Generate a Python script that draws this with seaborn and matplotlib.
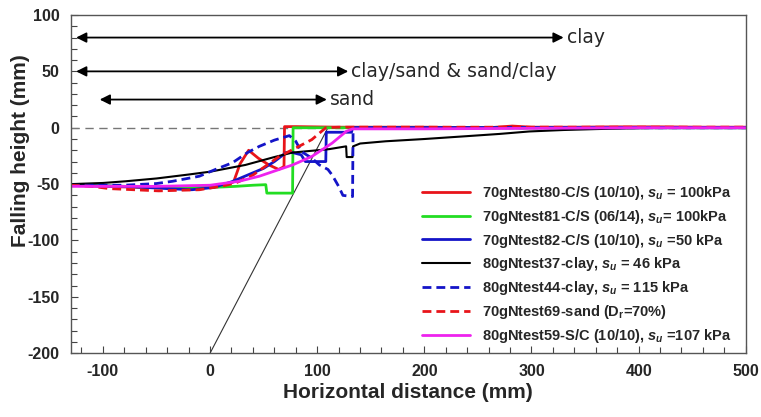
import matplotlib
matplotlib.use("Agg")
import matplotlib.pyplot as plt
import seaborn as sns
from matplotlib.ticker import MultipleLocator

# Data
x_t80 = [-130, -100, -60, -20, 0, 15, 22, 28, 36, 45, 55, 64, 68, 69, 69.5, 80, 120, 200, 260, 282, 300, 340, 380, 420, 460, 500]
y_t80 = [-51, -52, -53, -53, -52.5, -51, -48, -32, -20, -27, -33, -37, -35, -35, 1, 1, 0.5, 0.5, 0, 1.5, 0.5, 0.5, 0.8, 0.8, 0.5, 0.5]

x_t81 = [-130, -80, -40, 0, 24, 40, 52, 53, 77, 77.5, 120, 200, 300, 400, 500]
y_t81 = [-51, -52, -53, -53, -52, -51, -50.5, -58, -58, 0, 0, 0, 0, 0, 0]

x_t82 = [-130, -80, -40, -17, 3, 20, 35, 50, 60, 71, 77, 85, 89, 108, 108.5, 132, 133, 200, 300, 400, 500]
y_t82 = [-51, -52, -54, -55, -53, -48, -42, -36, -30, -22, -22, -24, -30, -30, -4, -4, 0, 0, 0, 0, 0]

x_t37 = [-130, -100, -79, -50, -20, 0, 33, 60, 77, 100, 111, 127, 127.5, 133, 133.5, 140, 164, 200, 236, 270, 298, 330, 360, 390, 423, 460, 500]
y_t37 = [-50, -49, -47.5, -45, -41.5, -39, -33, -26, -22, -20, -19, -16.5, -26, -26, -16.5, -14, -12, -10, -7.7, -5.5, -3.3, -2, -1.2, -0.5, 0, 0, 0]

x_t44 = [-130, -80, -50, -35, -10, 5, 21, 35, 46, 60, 74, 80, 85, 95, 102, 110, 114, 120, 124, 133, 133.5, 200, 300, 400, 500]
y_t44 = [-51, -51, -49.5, -47.5, -43, -37, -31, -22, -16.5, -11, -7, -12, -21, -27, -33, -37, -42, -52, -60, -61, 0, 0, 0, 0, 0]

x_t69 = [-130, -110, -94, -48, -10, 10, 24, 40, 64.5, 80, 95, 108, 120, 200, 300, 400, 500]
y_t69 = [-51, -52, -54, -56, -55, -52, -49, -42, -25.5, -18, -10.5, 0, 0.5, 0.5, 0.5, 0.5, 0.5]

x_t59 = [-130, -100, -50, 0, 27, 46, 77, 95, 114, 127, 133, 150, 200, 300, 400, 500]
y_t59 = [-52, -52, -52, -51, -47.5, -43, -33, -25.5, -13.6, -3.3, -1, -1, -1, -0.5, 0, 0]

slope_x = [0, 110]
slope_y = [-200, 0]

series = [
    (x_t80, y_t80, r"70gNtest80-C/S (10/10), $s_u$ = 100kPa", "#e8141a", "-"),
    (x_t81, y_t81, r"70gNtest81-C/S (06/14), $s_u$= 100kPa", "#22dd22", "-"),
    (x_t82, y_t82, r"70gNtest82-C/S (10/10), $s_u$ =50 kPa", "#1414c8", "-"),
    (x_t37, y_t37, r"80gNtest37-clay, $s_u$ = 46 kPa", "#000000", "-"),
    (x_t44, y_t44, r"80gNtest44-clay, $s_u$ = 115 kPa", "#1414c8", "--"),
    (x_t69, y_t69, r"70gNtest69-sand (D$_\mathrm{r}$=70%)", "#e8141a", "--"),
    (x_t59, y_t59, r"80gNtest59-S/C (10/10), $s_u$ =107 kPa", "#ee22ee", "-"),
]

sns.set_style("ticks")
plt.rcParams.update({
    "font.family": ["Liberation Sans", "DejaVu Sans"],
    "axes.unicode_minus": False,
    "mathtext.fontset": "custom",
    "mathtext.it": "Liberation Sans:italic:bold",
    "mathtext.rm": "Liberation Sans:bold",
    "mathtext.bf": "Liberation Sans:bold",
})

fig = plt.figure(figsize=(7.61, 4.17), dpi=100)
ax = fig.add_axes([0.093, 0.153, 0.887, 0.811])

ax.plot(slope_x, slope_y, color="#333333", lw=0.8)
ax.axhline(0, color="#777777", lw=1.0, ls=(0, (6, 4)))

for xs, ys, lab, col, ls in series:
    lw = 1.5 if col == "#000000" else 2.0
    sns.lineplot(x=xs, y=ys, ax=ax, color=col, lw=lw, label=lab,
                 sort=False, estimator=None)
    if ls == "--":
        ax.lines[-1].set_dashes((3.2, 1.8))

# range arrows
arrows = [(-125, 330, 80, "clay"), (-125, 129, 50, "clay/sand & sand/clay"), (-103, 109, 25, "sand")]
for x0, x1, yv, txt in arrows:
    ax.annotate("", xy=(x1, yv), xytext=(x0, yv),
                arrowprops=dict(arrowstyle="<|-|>", color="black", lw=1.3,
                                mutation_scale=15, shrinkA=0, shrinkB=0))
    ax.text(x1 + 3, yv, txt, family="DejaVu Sans", fontsize=13.5,
            va="center", ha="left")

ax.set_xlim(-130, 500)
ax.set_ylim(-200, 100)
ax.xaxis.set_major_locator(MultipleLocator(100))
ax.xaxis.set_minor_locator(MultipleLocator(20))
ax.yaxis.set_major_locator(MultipleLocator(50))
ax.yaxis.set_minor_locator(MultipleLocator(10))
ax.tick_params(which="both", direction="in", color="#444444", width=0.8)
ax.tick_params(which="major", length=5, labelsize=11.5, pad=8)
ax.tick_params(which="minor", length=4)
for lbl in ax.get_xticklabels() + ax.get_yticklabels():
    lbl.set_fontweight("bold")
for sp in ax.spines.values():
    sp.set_color("#555555")
    sp.set_linewidth(1.0)

ax.set_xlabel("Horizontal distance (mm)", fontsize=15, fontweight="bold")
ax.set_ylabel("Falling height (mm)", fontsize=15, fontweight="bold")
ax.xaxis.set_label_coords(0.5, -0.115)
ax.xaxis.label.set_va("center")
ax.yaxis.set_label_coords(-0.075, 0.6)
ax.yaxis.label.set_va("center")

leg = ax.legend(loc="upper left", bbox_to_anchor=(0.512, 0.518), frameon=False,
                prop={"weight": "bold", "size": 10.5}, handlelength=3.3,
                handletextpad=0.8, labelspacing=0.4, borderaxespad=0)

fig.savefig("out.png", dpi=100)
